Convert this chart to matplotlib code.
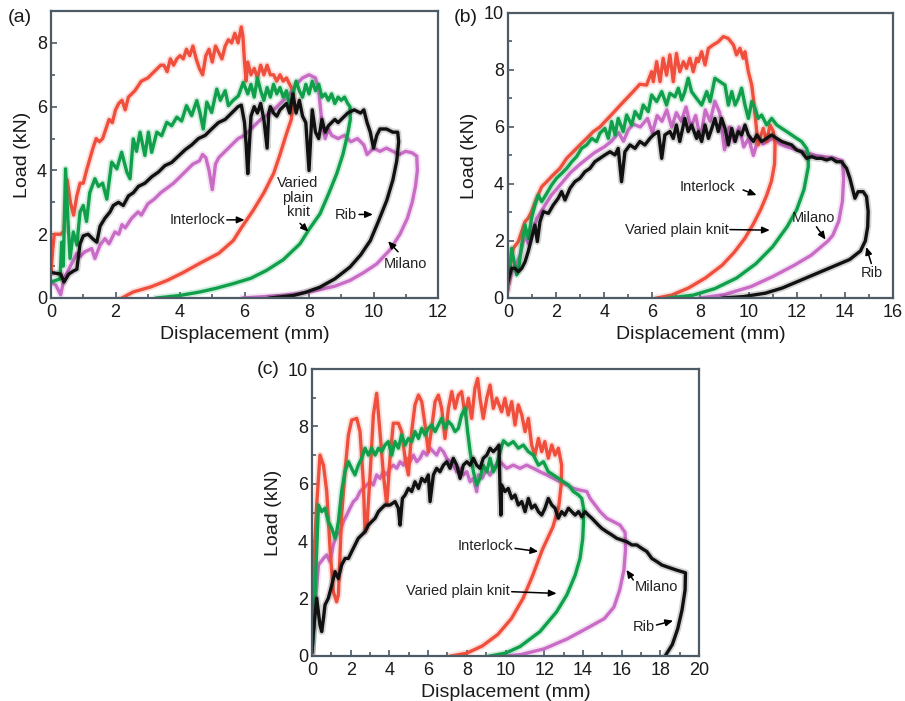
import numpy as np
import matplotlib
matplotlib.use("Agg")
import matplotlib.pyplot as plt
import matplotlib.patheffects as pe
from matplotlib.ticker import MultipleLocator

plt.rcParams['font.family'] = ['Liberation Sans', 'DejaVu Sans']

# ---- data: (displacement mm, load kN) ----
# panel (a)
a_interlock = [(0.0, 0.8), (0.05, 1.5), (0.1, 2.0), (0.3, 2.0), (0.4, 2.1), (0.5, 3.7), (0.6, 3.0), (0.7, 2.6),
               (0.8, 3.2), (0.9, 3.6), (1.0, 3.6), (1.1, 4.0), (1.3, 4.7), (1.4, 5.0), (1.5, 4.9), (1.6, 5.0),
               (1.8, 5.6), (1.9, 5.5), (2.0, 5.9), (2.1, 6.1), (2.2, 6.2), (2.3, 5.9), (2.4, 6.3), (2.5, 6.4),
               (2.6, 6.5), (2.8, 6.8), (3.0, 6.9), (3.2, 7.1), (3.4, 7.3), (3.5, 7.3), (3.6, 7.1), (3.7, 7.5),
               (3.8, 7.3), (3.9, 7.5), (4.0, 7.6), (4.1, 7.5), (4.2, 7.8), (4.3, 7.6), (4.4, 7.9), (4.5, 7.5),
               (4.6, 7.2), (4.7, 7.0), (4.8, 7.6), (4.9, 7.8), (5.0, 7.4), (5.1, 7.9), (5.2, 7.7), (5.3, 7.5),
               (5.4, 7.9), (5.5, 8.1), (5.6, 8.0), (5.7, 8.3), (5.8, 8.0), (5.9, 8.5), (5.95, 8.2), (6.0, 7.4),
               (6.05, 6.8), (6.1, 7.4), (6.2, 7.0), (6.3, 7.2), (6.4, 6.9), (6.5, 7.3), (6.6, 7.0), (6.7, 7.3),
               (6.8, 7.0), (6.9, 7.0), (7.0, 6.8), (7.1, 7.0), (7.2, 6.8), (7.3, 6.9), (7.4, 6.7), (7.5, 6.5),
               (7.52, 6.2), (7.45, 5.6), (7.3, 5.15), (7.1, 4.5), (6.9, 3.9), (6.6, 3.3), (6.27, 2.75), (5.9, 2.2),
               (5.65, 1.8), (5.2, 1.4), (4.6, 1.08), (4.1, 0.8), (3.6, 0.55), (3.1, 0.35), (2.55, 0.19), (2.2, 0.0)]
a_varied = [(0.0, 0.5), (0.28, 0.6), (0.33, 1.75), (0.38, 1.0), (0.45, 4.05), (0.52, 2.5), (0.59, 1.24),
            (0.69, 2.07), (0.8, 1.66), (0.9, 2.7), (1.0, 2.9), (1.1, 2.4), (1.2, 3.3), (1.36, 3.74), (1.47, 3.5),
            (1.6, 3.6), (1.73, 3.1), (1.88, 4.26), (2.04, 4.05), (2.19, 4.57), (2.35, 3.95), (2.45, 3.74),
            (2.55, 4.99), (2.65, 4.6), (2.76, 5.2), (2.91, 4.47), (3.02, 5.2), (3.12, 4.57), (3.28, 5.2),
            (3.43, 5.09), (3.59, 5.51), (3.74, 5.4), (3.9, 5.67), (4.05, 5.55), (4.2, 6.03), (4.36, 5.72),
            (4.52, 6.19), (4.62, 5.8), (4.72, 5.3), (4.83, 6.14), (4.98, 5.82), (5.14, 6.55), (5.25, 6.2),
            (5.4, 6.5), (5.5, 6.03), (5.65, 6.2), (5.81, 6.34), (5.96, 6.76), (6.1, 6.4), (6.2, 6.7), (6.3, 6.3),
            (6.4, 6.9), (6.5, 6.5), (6.6, 6.2), (6.7, 6.6), (6.8, 6.3), (6.9, 6.7), (7.0, 6.4), (7.1, 6.6),
            (7.2, 6.3), (7.3, 6.5), (7.4, 6.0), (7.5, 6.4), (7.6, 6.8), (7.7, 6.5), (7.8, 6.3), (7.9, 6.7),
            (8.0, 6.4), (8.1, 6.8), (8.2, 6.5), (8.3, 6.7), (8.4, 6.3), (8.5, 6.4), (8.6, 6.2), (8.7, 6.4),
            (8.8, 6.1), (8.9, 6.3), (9.0, 6.2), (9.1, 6.3), (9.2, 6.1), (9.27, 6.0),
            (9.28, 5.6), (9.2, 5.15), (9.05, 4.5), (8.86, 3.9), (8.6, 3.25), (8.34, 2.64), (8.0, 2.15),
            (7.72, 1.7), (7.2, 1.2), (6.69, 0.87), (6.2, 0.62), (5.65, 0.45), (5.1, 0.3), (4.62, 0.19),
            (4.0, 0.08), (3.28, 0.0)]
a_rib = [(0.0, 0.8), (0.3, 0.75), (0.4, 0.5), (0.55, 0.75), (0.7, 0.85), (0.8, 0.9), (0.9, 1.7), (1.0, 1.95),
         (1.15, 2.0), (1.3, 1.85), (1.42, 1.75), (1.52, 2.25), (1.67, 2.5), (1.83, 2.7), (1.93, 2.9), (2.09, 3.0),
         (2.24, 2.9), (2.4, 3.2), (2.55, 3.3), (2.71, 3.5), (2.91, 3.6), (3.12, 3.8), (3.33, 3.95), (3.53, 4.15),
         (3.74, 4.25), (3.95, 4.45), (4.16, 4.65), (4.36, 4.8), (4.57, 5.0), (4.78, 5.1), (4.98, 5.3),
         (5.19, 5.5), (5.4, 5.6), (5.6, 5.8), (5.8, 6.0), (5.9, 6.05), (6.0, 5.5), (6.05, 4.8), (6.1, 3.9),
         (6.15, 4.8), (6.2, 5.7), (6.3, 6.0), (6.4, 5.8), (6.5, 6.1), (6.6, 5.6), (6.7, 4.7), (6.75, 5.8),
         (6.8, 6.0), (6.9, 5.8), (7.0, 5.7), (7.1, 5.9), (7.2, 6.0), (7.3, 6.1), (7.4, 5.8), (7.5, 6.4),
         (7.6, 5.8), (7.7, 6.2), (7.8, 5.7), (7.9, 5.5), (8.0, 4.0), (8.05, 5.0), (8.1, 5.9), (8.2, 5.2),
         (8.3, 5.0), (8.4, 5.6), (8.5, 5.2), (8.6, 5.4), (8.7, 5.5), (8.8, 5.6), (8.9, 5.5), (9.0, 5.6),
         (9.2, 5.8), (9.4, 5.9), (9.6, 5.8), (9.7, 5.9), (9.8, 5.5), (9.9, 5.2), (10.0, 4.7), (10.1, 5.1),
         (10.2, 5.3), (10.4, 5.3), (10.6, 5.2), (10.75, 5.2),
         (10.78, 4.9), (10.72, 4.3), (10.6, 3.7), (10.41, 3.06), (10.15, 2.4), (9.9, 1.8), (9.6, 1.35),
         (9.27, 0.97), (8.8, 0.6), (8.34, 0.34), (7.9, 0.18), (7.52, 0.08), (6.8, 0.0)]
a_milano = [(0.0, 0.5), (0.15, 0.4), (0.3, 0.1), (0.4, 0.6), (0.5, 0.8), (0.6, 1.0), (0.7, 1.2), (0.8, 1.4),
            (0.9, 1.3), (1.05, 1.45), (1.26, 1.55), (1.36, 1.24), (1.52, 1.66), (1.67, 1.86), (1.8, 1.7),
            (1.98, 2.07), (2.1, 2.0), (2.2, 2.3), (2.3, 2.2), (2.5, 2.5), (2.7, 2.7), (2.8, 2.6), (3.0, 2.95),
            (3.2, 3.1), (3.4, 3.3), (3.6, 3.45), (3.8, 3.6), (4.0, 3.8), (4.2, 4.0), (4.4, 4.2), (4.6, 4.3),
            (4.7, 4.5), (4.8, 4.4), (4.9, 4.0), (5.0, 3.4), (5.1, 4.2), (5.2, 4.4), (5.4, 4.6), (5.6, 4.8),
            (5.8, 5.0), (6.0, 5.1), (6.2, 5.3), (6.5, 5.6), (6.8, 5.8), (7.0, 6.0), (7.2, 6.2), (7.4, 6.4),
            (7.6, 6.7), (7.8, 6.9), (8.0, 7.0), (8.2, 6.9), (8.3, 6.5), (8.4, 5.5), (8.5, 5.0), (8.6, 5.3),
            (8.7, 5.1), (8.9, 5.0), (9.1, 5.1), (9.3, 4.9), (9.5, 5.0), (9.7, 4.8), (9.8, 4.5), (10.0, 4.7),
            (10.2, 4.6), (10.4, 4.7), (10.6, 4.6), (10.8, 4.5), (11.0, 4.6), (11.2, 4.55), (11.34, 4.45),
            (11.36, 4.0), (11.3, 3.5), (11.2, 3.0), (11.05, 2.5), (10.82, 2.0), (10.5, 1.5), (10.1, 1.07),
            (9.7, 0.8), (9.27, 0.55), (8.8, 0.37), (8.24, 0.24), (7.7, 0.14), (7.2, 0.08), (5.96, 0.0)]

# panel (b)
b_interlock = [(0.0, 0.3), (0.08, 1.04), (0.22, 1.74), (0.43, 1.98), (0.57, 2.33), (0.71, 2.68), (0.84, 2.8),
               (0.98, 3.03), (1.19, 3.5), (1.4, 3.9), (1.61, 4.08), (1.88, 4.32), (2.16, 4.55), (2.44, 4.9),
               (2.71, 5.13), (2.99, 5.37), (3.27, 5.6), (3.55, 5.84), (3.82, 6.0), (4.1, 6.25), (4.38, 6.5),
               (4.65, 6.75), (4.93, 7.0), (5.21, 7.25), (5.48, 7.5), (5.76, 7.47), (5.97, 7.94), (6.04, 7.59),
               (6.18, 8.29), (6.32, 7.59), (6.45, 8.41), (6.59, 7.82), (6.73, 8.53), (6.87, 7.59), (7.0, 8.58),
               (7.14, 7.94), (7.29, 8.29), (7.42, 8.06), (7.56, 8.41), (7.7, 7.94), (7.84, 8.41), (7.91, 8.29),
               (8.05, 8.64), (8.19, 8.18), (8.33, 8.76), (8.53, 8.88), (8.74, 8.99), (8.95, 9.17), (9.15, 9.11),
               (9.37, 8.88), (9.5, 8.53), (9.64, 8.76), (9.78, 8.41), (9.85, 8.64), (9.99, 7.94), (10.13, 7.47),
               (10.2, 7.0), (10.27, 6.42), (10.34, 5.84), (10.4, 5.37), (10.47, 5.6), (10.61, 5.95), (10.75, 5.49),
               (10.89, 6.07), (11.03, 5.84), (11.1, 5.4),
               (11.08, 4.7), (10.95, 4.1), (10.75, 3.6), (10.5, 3.1), (10.2, 2.6), (9.85, 2.1), (9.4, 1.6),
               (8.9, 1.15), (8.2, 0.7), (7.5, 0.35), (6.8, 0.1), (6.2, 0.0)]
b_varied = [(0.0, 0.6), (0.08, 1.04), (0.15, 1.74), (0.25, 1.3), (0.36, 0.81), (0.43, 0.95), (0.57, 1.86),
            (0.71, 2.56), (0.84, 2.09), (0.98, 2.8), (1.12, 3.26), (1.26, 3.61), (1.4, 3.38), (1.61, 3.67),
            (1.81, 3.96), (2.02, 4.2), (2.23, 4.37), (2.44, 4.55), (2.65, 4.78), (2.85, 4.96), (3.06, 5.25),
            (3.27, 5.37), (3.48, 5.6), (3.68, 5.49), (3.82, 5.78), (4.03, 5.95), (4.17, 5.6), (4.31, 6.19),
            (4.45, 5.72), (4.58, 6.3), (4.79, 5.84), (4.93, 6.42), (5.14, 6.07), (5.28, 6.54), (5.48, 6.3),
            (5.62, 6.77), (5.83, 6.54), (5.97, 7.12), (6.18, 6.89), (6.39, 7.24), (6.59, 6.77), (6.73, 7.18),
            (6.94, 7.06), (7.08, 7.36), (7.22, 6.95), (7.35, 7.24), (7.49, 7.71), (7.63, 7.24), (7.84, 7.0),
            (8.05, 6.77), (8.26, 7.24), (8.4, 6.89), (8.6, 7.71), (8.81, 7.59), (9.02, 7.47), (9.16, 6.77),
            (9.3, 7.24), (9.44, 6.77), (9.57, 7.0), (9.71, 7.36), (9.85, 6.77), (9.99, 6.3), (10.13, 6.89),
            (10.27, 6.65), (10.4, 6.3), (10.54, 6.42), (10.75, 6.07), (10.96, 6.3), (11.17, 6.07), (11.38, 5.95),
            (11.58, 5.84), (11.79, 5.72), (12.0, 5.6), (12.2, 5.49), (12.41, 5.25), (12.48, 5.05),
            (12.48, 4.6), (12.3, 3.8), (12.0, 3.1), (11.6, 2.5), (11.0, 1.8), (10.3, 1.2), (9.5, 0.7),
            (8.6, 0.33), (7.7, 0.1), (6.7, 0.0)]
b_milano = [(0.0, 0.4), (0.15, 0.9), (0.3, 1.1), (0.5, 1.5), (0.7, 2.2), (0.85, 1.9), (1.0, 2.3), (1.2, 2.8),
            (1.5, 3.2), (1.8, 3.6), (2.0, 3.8), (2.3, 4.1), (2.6, 4.4), (3.0, 4.7), (3.3, 4.9), (3.6, 5.1),
            (4.0, 5.3), (4.3, 5.5), (4.6, 5.8), (4.8, 5.5), (5.0, 5.9), (5.2, 6.1), (5.5, 6.0), (5.8, 6.3),
            (6.0, 5.8), (6.2, 6.4), (6.4, 6.2), (6.6, 6.6), (6.8, 6.0), (7.0, 6.5), (7.2, 6.2), (7.4, 6.7),
            (7.6, 6.0), (7.8, 6.4), (8.0, 5.6), (8.2, 6.6), (8.4, 6.2), (8.6, 6.9), (8.8, 6.5), (9.0, 5.2),
            (9.2, 6.0), (9.4, 5.5), (9.6, 6.0), (9.8, 5.3), (10.0, 5.6), (10.2, 5.0), (10.4, 5.6), (10.6, 5.4),
            (10.8, 5.5), (11.0, 5.6), (11.3, 5.4), (11.6, 5.3), (12.0, 5.2), (12.4, 5.1), (12.8, 5.0),
            (13.2, 4.95), (13.6, 4.9), (13.9, 4.8),
            (13.95, 4.2), (13.9, 3.4), (13.75, 2.7), (13.5, 2.2), (13.3, 2.0), (12.6, 1.5), (11.9, 1.15),
            (11.0, 0.75), (10.1, 0.4), (9.0, 0.12), (8.0, 0.0)]
b_rib = [(0.0, 0.57), (0.15, 1.04), (0.29, 1.04), (0.43, 0.92), (0.57, 1.04), (0.71, 1.27), (0.84, 1.63),
         (0.98, 2.09), (1.12, 2.56), (1.22, 1.98), (1.33, 2.68), (1.47, 3.03), (1.68, 2.97), (1.88, 3.26),
         (2.09, 3.5), (2.23, 3.73), (2.37, 3.44), (2.58, 3.85), (2.78, 4.08), (2.99, 4.2), (3.2, 4.43),
         (3.41, 4.55), (3.61, 4.78), (3.82, 4.9), (4.03, 5.02), (4.24, 5.13), (4.45, 5.02), (4.58, 5.25),
         (4.72, 4.08), (4.86, 5.13), (5.07, 5.37), (5.28, 5.25), (5.48, 5.49), (5.69, 5.37), (5.9, 5.6),
         (6.04, 5.72), (6.25, 5.84), (6.39, 4.9), (6.52, 5.72), (6.73, 5.84), (6.87, 5.6), (7.0, 6.07),
         (7.14, 5.49), (7.35, 6.3), (7.49, 5.84), (7.63, 6.07), (7.84, 5.6), (7.91, 5.84), (8.05, 5.49),
         (8.19, 6.07), (8.33, 5.6), (8.47, 5.95), (8.6, 6.3), (8.74, 5.84), (8.88, 6.3), (9.02, 5.95),
         (9.16, 5.37), (9.3, 5.95), (9.44, 5.49), (9.57, 5.84), (9.71, 5.72), (9.85, 6.07), (9.99, 5.72),
         (10.2, 5.49), (10.34, 5.72), (10.54, 5.49), (10.75, 5.6), (10.96, 5.72), (11.17, 5.6), (11.38, 5.49),
         (11.58, 5.43), (11.79, 5.37), (12.0, 5.19), (12.2, 5.13), (12.41, 4.9), (12.62, 4.96), (12.82, 4.9),
         (13.03, 4.9), (13.24, 4.84), (13.45, 4.9), (13.65, 4.78), (13.86, 4.78), (14.07, 4.55), (14.21, 4.2),
         (14.35, 3.73), (14.42, 3.5), (14.55, 3.73), (14.76, 3.73), (14.9, 3.56), (14.97, 3.03),
         (14.95, 2.5), (14.85, 2.0), (14.65, 1.65), (14.2, 1.35), (13.5, 1.1), (12.8, 0.85), (12.1, 0.6),
         (11.4, 0.35), (10.7, 0.17), (9.8, 0.05), (8.94, 0.0)]

# panel (c)
c_interlock = [(0.0, 0.15), (0.07, 2.94), (0.24, 5.26), (0.41, 7.0), (0.59, 6.65), (0.76, 5.73), (0.93, 3.75),
               (1.1, 2.24), (1.27, 1.89), (1.36, 2.13), (1.53, 4.91), (1.7, 6.42), (1.88, 7.7), (2.05, 8.22),
               (2.31, 8.28), (2.48, 7.82), (2.65, 6.07), (2.74, 4.33), (2.83, 4.45), (3.0, 6.31), (3.17, 8.4),
               (3.34, 9.15), (3.51, 7.82), (3.69, 6.31), (3.86, 5.26), (4.03, 6.89), (4.2, 8.11), (4.46, 8.11),
               (4.63, 7.82), (4.81, 6.89), (4.98, 6.31), (5.15, 7.82), (5.32, 8.75), (5.5, 9.09), (5.67, 8.86),
               (5.84, 8.05), (6.01, 7.12), (6.18, 7.93), (6.36, 8.86), (6.53, 9.09), (6.7, 8.63), (6.87, 7.58),
               (7.05, 8.63), (7.22, 9.21), (7.39, 8.63), (7.56, 9.09), (7.73, 9.21), (7.91, 8.4), (8.08, 8.98),
               (8.25, 8.28), (8.42, 9.33), (8.56, 9.67), (8.68, 8.98), (8.85, 8.28), (9.03, 8.98), (9.2, 9.44),
               (9.37, 8.63), (9.54, 8.98), (9.8, 8.51), (9.97, 8.98), (10.14, 8.4), (10.32, 8.86), (10.49, 8.05),
               (10.66, 8.75), (10.84, 8.4), (11.01, 7.82), (11.18, 8.28), (11.35, 7.35), (11.52, 7.0),
               (11.7, 7.58), (11.87, 7.12), (12.03, 7.47), (12.21, 6.89), (12.39, 7.35), (12.56, 7.0),
               (12.73, 7.24), (12.9, 6.65),
               (12.88, 6.0), (12.75, 5.2), (12.45, 4.5), (11.9, 3.7), (11.4, 2.8), (10.9, 2.0), (10.3, 1.3),
               (9.6, 0.75), (8.8, 0.35), (8.0, 0.1), (7.2, 0.0)]
c_varied = [(0.0, 0.2), (0.1, 1.0), (0.2, 3.0), (0.33, 5.26), (0.5, 5.03), (0.67, 5.15), (0.84, 4.68),
            (1.02, 4.45), (1.19, 4.1), (1.27, 4.33), (1.36, 4.68), (1.53, 5.73), (1.7, 6.42), (1.88, 6.77),
            (2.05, 6.53), (2.22, 6.31), (2.39, 6.65), (2.57, 6.89), (2.74, 7.24), (2.91, 7.0), (3.08, 7.24),
            (3.26, 7.0), (3.43, 7.24), (3.6, 7.12), (3.77, 7.35), (3.94, 7.47), (4.12, 7.0), (4.29, 7.47),
            (4.46, 7.24), (4.63, 7.7), (4.81, 7.35), (4.98, 7.58), (5.15, 7.47), (5.32, 7.82), (5.5, 7.58),
            (5.67, 7.93), (5.84, 7.7), (6.01, 7.93), (6.18, 8.05), (6.36, 7.82), (6.53, 8.05), (6.7, 8.28),
            (6.87, 7.93), (7.05, 8.17), (7.22, 8.05), (7.39, 7.82), (7.56, 7.93), (7.73, 8.4), (7.91, 8.63),
            (8.04, 7.82), (8.17, 7.12), (8.34, 6.42), (8.51, 5.96), (8.68, 6.19), (8.85, 6.65), (9.03, 6.42),
            (9.2, 6.89), (9.37, 6.42), (9.54, 6.65), (9.72, 7.12), (9.89, 7.5), (10.14, 7.35), (10.4, 7.47),
            (10.66, 7.24), (10.92, 7.35), (11.18, 7.12), (11.44, 7.0), (11.7, 6.65), (11.96, 6.77),
            (12.21, 6.42), (12.47, 6.31), (12.73, 6.19), (12.99, 6.07), (13.25, 5.96), (13.51, 5.73),
            (13.77, 5.61), (13.94, 5.49), (14.03, 5.15),
            (14.03, 4.7), (13.99, 4.1), (13.85, 3.4), (13.6, 2.82), (13.17, 2.13), (12.64, 1.54), (11.78, 0.85),
            (10.75, 0.33), (10.0, 0.1), (9.2, 0.0)]
c_milano = [(0.0, 0.15), (0.16, 1.78), (0.33, 3.17), (0.59, 3.4), (0.76, 3.52), (0.93, 3.29), (1.1, 3.87),
            (1.27, 4.22), (1.45, 4.33), (1.62, 4.68), (1.79, 4.91), (1.96, 5.15), (2.14, 5.38), (2.31, 5.49),
            (2.48, 5.73), (2.65, 5.84), (2.83, 5.96), (3.0, 6.07), (3.17, 5.96), (3.34, 6.31), (3.51, 6.19),
            (3.69, 6.42), (3.86, 6.31), (4.03, 6.54), (4.2, 6.65), (4.38, 6.54), (4.55, 6.77), (4.72, 6.65),
            (4.89, 6.89), (5.06, 6.77), (5.24, 7.0), (5.41, 6.77), (5.58, 6.89), (5.75, 7.12), (5.93, 7.0),
            (6.1, 7.24), (6.27, 7.12), (6.44, 7.0), (6.61, 7.24), (6.79, 7.12), (6.96, 6.89), (7.13, 6.77),
            (7.3, 6.65), (7.48, 6.42), (7.65, 6.54), (7.82, 6.31), (8.0, 6.42), (8.17, 6.07), (8.34, 6.19),
            (8.51, 5.73), (8.6, 6.31), (8.8, 6.2), (9.0, 6.5), (9.2, 6.3), (9.4, 6.6), (9.72, 6.77),
            (10.06, 6.54), (10.4, 6.65), (10.75, 6.54), (11.09, 6.65), (11.44, 6.54), (11.78, 6.42),
            (12.13, 6.31), (12.47, 6.19), (12.82, 6.07), (13.16, 5.96), (13.51, 5.84), (13.85, 5.78),
            (14.2, 5.73), (14.37, 5.49), (14.63, 5.26), (14.89, 5.03), (15.23, 4.8), (15.58, 4.68),
            (15.92, 4.56), (16.18, 4.3),
            (16.2, 3.7), (16.12, 3.0), (15.9, 2.3), (15.6, 1.7), (15.1, 1.3), (14.3, 1.0), (13.2, 0.6),
            (12.0, 0.25), (10.8, 0.05), (10.0, 0.0)]
c_rib = [(0.0, 0.15), (0.07, 0.85), (0.24, 2.01), (0.41, 1.08), (0.5, 0.85), (0.59, 1.31), (0.67, 1.78),
         (0.84, 2.01), (1.02, 2.47), (1.19, 2.94), (1.36, 2.7), (1.53, 3.17), (1.71, 3.4), (1.88, 3.4),
         (2.05, 3.64), (2.22, 3.87), (2.39, 4.1), (2.57, 4.22), (2.74, 4.33), (2.91, 4.56), (3.08, 4.68),
         (3.26, 4.8), (3.43, 5.03), (3.6, 5.15), (3.77, 5.26), (4.03, 5.26), (4.29, 5.38), (4.46, 5.15),
         (4.55, 4.56), (4.67, 5.49), (4.81, 5.61), (4.98, 5.84), (5.15, 5.73), (5.32, 6.07), (5.5, 5.84),
         (5.67, 6.19), (5.84, 6.07), (6.01, 6.31), (6.1, 5.38), (6.27, 6.31), (6.44, 6.54), (6.61, 6.42),
         (6.79, 6.65), (6.96, 6.77), (7.13, 6.54), (7.3, 6.89), (7.48, 6.65), (7.65, 6.19), (7.82, 6.65),
         (8.0, 6.77), (8.17, 6.65), (8.34, 6.89), (8.51, 6.65), (8.68, 6.54), (8.85, 6.89), (9.03, 7.0),
         (9.2, 7.24), (9.37, 7.12), (9.54, 7.24), (9.66, 7.35), (9.72, 5.73), (9.76, 4.91), (9.8, 5.96),
         (9.97, 5.73), (10.14, 5.84), (10.32, 5.49), (10.49, 5.61), (10.66, 5.26), (10.84, 5.38), (11.01, 5.03),
         (11.18, 5.49), (11.35, 5.15), (11.52, 5.26), (11.7, 5.03), (11.87, 4.91), (12.04, 5.15), (12.21, 5.49),
         (12.39, 5.26), (12.56, 5.15), (12.73, 4.8), (12.9, 5.03), (13.06, 4.91), (13.25, 5.15), (13.42, 5.03),
         (13.6, 4.91), (13.77, 5.03), (13.94, 4.85), (14.11, 5.03), (14.28, 4.91), (14.46, 4.8), (14.63, 4.68),
         (14.8, 4.56), (14.97, 4.45), (15.23, 4.33), (15.49, 4.22), (15.75, 4.1), (16.01, 4.04), (16.27, 3.98),
         (16.53, 3.87), (16.78, 3.87), (17.04, 3.75), (17.3, 3.64), (17.56, 3.4), (17.82, 3.29), (18.08, 3.17),
         (18.33, 3.11), (18.59, 3.05), (18.85, 2.99), (19.1, 2.94), (19.3, 2.9),
         (19.28, 2.3), (19.12, 1.6), (18.9, 0.95), (18.62, 0.4), (18.25, 0.0)]

RED = '#ef4f3c'
GREEN = '#10a04c'
MAGENTA = '#c86cc6'
BLACK = '#111111'
FRAME = '#4d5b66'
TXT = '#1a1a1a'

fig = plt.figure(figsize=(9.05, 7.01), dpi=100)


def draw_curve(ax, pts, col):
    arr = np.array(pts)
    ax.plot(arr[:, 0], arr[:, 1], color=col, lw=2.4, solid_joinstyle='round',
            path_effects=[pe.Stroke(linewidth=5, foreground=col, alpha=0.18), pe.Normal()])


def setup_axes(rect, xmax, ymax):
    ax = fig.add_axes(rect)
    ax.set_xlim(0, xmax)
    ax.set_ylim(0, ymax)
    ax.xaxis.set_major_locator(MultipleLocator(2))
    ax.xaxis.set_minor_locator(MultipleLocator(1))
    ax.yaxis.set_major_locator(MultipleLocator(2))
    ax.yaxis.set_minor_locator(MultipleLocator(1))
    ax.tick_params(which='both', direction='in', top=False, right=False, color=FRAME, width=1.2,
                   labelsize=13, labelcolor=TXT)
    ax.tick_params(which='major', length=4)
    ax.tick_params(which='minor', length=3)
    ax.tick_params(axis='x', pad=4)
    ax.tick_params(axis='y', pad=3)
    for s in ax.spines.values():
        s.set_color(FRAME)
        s.set_linewidth(1.6)
    ax.set_xlabel('Displacement (mm)', fontsize=14, labelpad=4, color=TXT)
    ax.set_ylabel('Load (kN)', fontsize=14, labelpad=4, color=TXT)
    return ax


def label(ax, text, pos, tail, tip):
    ax.text(pos[0], pos[1], text, fontsize=10.5, ha='center', va='center', color='#222222',
            linespacing=1.05)
    ax.annotate('', xy=tip, xytext=tail,
                arrowprops=dict(arrowstyle='-|>,head_length=0.45,head_width=0.2', color='k', lw=1.1,
                                shrinkA=0, shrinkB=0))


# (a)
ax_a = setup_axes([0.0564, 0.5749, 0.4276, 0.4094], 12, 9)
for pts, col in [(a_milano, MAGENTA), (a_interlock, RED), (a_varied, GREEN), (a_rib, BLACK)]:
    draw_curve(ax_a, pts, col)
label(ax_a, 'Interlock', (4.55, 2.45), (5.45, 2.45), (6.0, 2.45))
label(ax_a, 'Varied\nplain\nknit', (7.66, 3.15), (7.72, 2.34), (7.98, 2.08))
label(ax_a, 'Rib', (9.15, 2.6), (9.55, 2.62), (9.98, 2.62))
label(ax_a, 'Milano', (10.99, 1.06), (10.76, 1.45), (10.45, 1.78))

# (b)
ax_b = setup_axes([0.5613, 0.5749, 0.4254, 0.4066], 16, 10)
for pts, col in [(b_milano, MAGENTA), (b_interlock, RED), (b_varied, GREEN), (b_rib, BLACK)]:
    draw_curve(ax_b, pts, col)
label(ax_b, 'Interlock', (8.29, 3.9), (9.77, 3.79), (10.33, 3.61))
label(ax_b, 'Varied plain knit', (7.0, 2.4), (9.22, 2.4), (10.88, 2.38))
label(ax_b, 'Milano', (12.68, 2.79), (12.82, 2.5), (13.2, 2.05))
label(ax_b, 'Rib', (15.13, 0.86), (15.1, 1.21), (14.89, 1.79))

# (c)
ax_c = setup_axes([0.3448, 0.0642, 0.4276, 0.4094], 20, 10)
for pts, col in [(c_milano, MAGENTA), (c_interlock, RED), (c_varied, GREEN), (c_rib, BLACK)]:
    draw_curve(ax_c, pts, col)
label(ax_c, 'Interlock', (8.94, 3.83), (10.49, 3.75), (11.69, 3.64))
label(ax_c, 'Varied plain knit', (7.52, 2.28), (10.32, 2.24), (12.64, 2.18))
label(ax_c, 'Milano', (17.8, 2.39), (16.6, 2.65), (16.25, 3.0))
label(ax_c, 'Rib', (17.15, 1.02), (17.8, 1.08), (18.66, 1.23))

fig.text(20 / 905, 1 - 18 / 701, '(a)', fontsize=14, ha='center', va='center', color=TXT)
fig.text(466 / 905, 1 - 17 / 701, '(b)', fontsize=14, ha='center', va='center', color=TXT)
fig.text(268 / 905, 1 - 370 / 701, '(c)', fontsize=14, ha='center', va='center', color=TXT)

fig.savefig('out.png', dpi=100)
